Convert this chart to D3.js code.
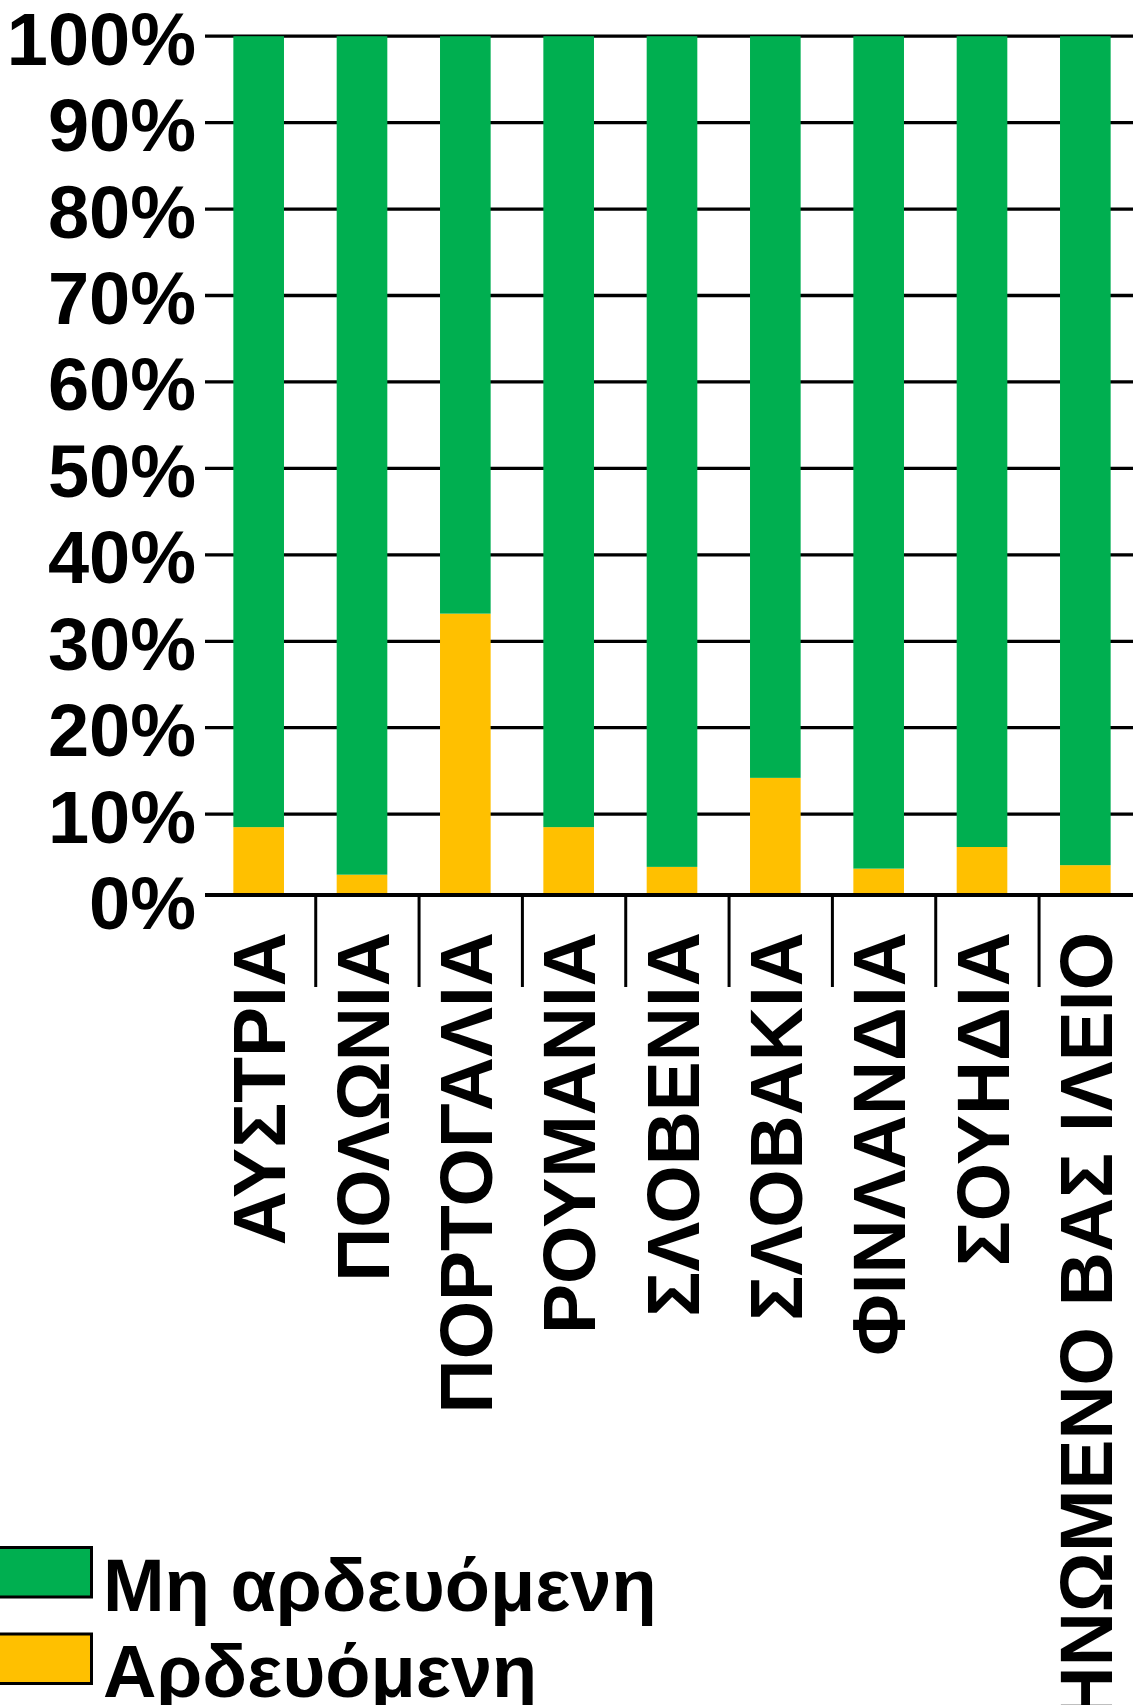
<!DOCTYPE html>
<html>
<head>
<meta charset="utf-8">
<script src="https://cdn.jsdelivr.net/npm/d3@7"></script>
<style>
  body { margin: 0; background: #fff; }
  svg { display: block; font-family: "Liberation Sans", Arial, sans-serif; font-weight: bold; }
</style>
</head>
<body>
<script>
// categories and values (% of area)
var countries = ['ΑΥΣΤΡΙΑ', 'ΠΟΛΩΝΙΑ', 'ΠΟΡΤΟΓΑΛΙΑ', 'ΡΟΥΜΑΝΙΑ', 'ΣΛΟΒΕΝΙΑ',
  'ΣΛΟΒΑΚΙΑ', 'ΦΙΝΛΑΝΔΙΑ', 'ΣΟΥΗΔΙΑ', 'ΗΝΩΜΕΝΟ ΒΑΣ ΙΛΕΙΟ'];
var irrigated = [8.5, 3.0, 33.2, 8.5, 3.9, 14.2, 3.7, 6.2, 4.1];
var nonIrrigated = [91.5, 97.0, 66.8, 91.5, 96.1, 85.8, 96.3, 93.8, 95.9];
var yTicks = [0, 10, 20, 30, 40, 50, 60, 70, 80, 90, 100];
var seriesNames = ['Μη αρδευόμενη', 'Αρδευόμενη'];
var seriesColors = ['#00AF50', '#FFC000'];

var width = 1133, height = 1705;
var axisY = 894; // Excel clips the bars at the axis line

var svg = d3.select('body').append('svg')
  .attr('width', width)
  .attr('height', height);

var x = d3.scaleBand()
  .domain(countries)
  .range([207, 1137])
  .paddingInner(0.51)
  .paddingOuter(0.255);

var y = d3.scaleLinear()
  .domain([0, 100])
  .range([900.6, 36.2]);

// gridlines
svg.append('g').selectAll('line')
  .data(yTicks.filter(function(d) { return d > 0; }))
  .enter().append('line')
  .attr('x1', 205).attr('x2', width)
  .attr('y1', function(d) { return y(d); })
  .attr('y2', function(d) { return y(d); })
  .attr('stroke', '#000')
  .attr('stroke-width', 3.3);

// stacked bars
var rows = countries.map(function(c, i) {
  return { name: c, irr: irrigated[i], non: nonIrrigated[i] };
});
var stack = d3.stack().keys(['irr', 'non'])(rows);

svg.append('g').selectAll('g')
  .data(stack)
  .enter().append('g')
  .attr('fill', function(d, i) { return seriesColors[1 - i]; })
  .selectAll('rect')
  .data(function(d) { return d; })
  .enter().append('rect')
  .attr('x', function(d) { return x(d.data.name); })
  .attr('width', x.bandwidth())
  .attr('y', function(d) { return y(d[1]); })
  .attr('height', function(d) { return Math.min(y(d[0]), axisY) - y(d[1]); });

// category axis line + separators
svg.append('line')
  .attr('x1', 205).attr('x2', width)
  .attr('y1', axisY + 1).attr('y2', axisY + 1)
  .attr('stroke', '#000').attr('stroke-width', 4);

var gap = (x.step() - x.bandwidth()) / 2;
svg.append('g').selectAll('line')
  .data(countries.slice(1))
  .enter().append('line')
  .attr('x1', function(d) { return x(d) - gap + 5.4; })
  .attr('x2', function(d) { return x(d) - gap + 5.4; })
  .attr('y1', axisY).attr('y2', 987)
  .attr('stroke', '#000').attr('stroke-width', 3);

// y tick labels
svg.append('g').selectAll('text')
  .data(yTicks)
  .enter().append('text')
  .attr('x', 196)
  .attr('y', function(d) { return y(d) + 28.5; })
  .attr('text-anchor', 'end')
  .attr('font-size', 74)
  .text(function(d) { return d + '%'; });

// rotated category labels
svg.append('g').selectAll('text')
  .data(countries)
  .enter().append('text')
  .attr('transform', function(d) {
    return 'translate(' + (x(d) + x.bandwidth() / 2) + ',932) rotate(-90)';
  })
  .attr('dy', 26.8)
  .attr('text-anchor', 'end')
  .attr('font-size', 75)
  .text(function(d) { return d; });

// legend
var legend = svg.append('g').selectAll('g')
  .data(seriesNames)
  .enter().append('g')
  .attr('transform', function(d, i) { return 'translate(0,' + (i * 86.5) + ')'; });
legend.append('rect')
  .attr('x', -5).attr('y', 1547.5)
  .attr('width', 96.5).attr('height', 49.5)
  .attr('fill', function(d, i) { return seriesColors[i]; })
  .attr('stroke', '#000').attr('stroke-width', 3);
legend.append('text')
  .attr('x', 103).attr('y', 1610.5)
  .attr('font-size', 74)
  .text(function(d) { return d; });
</script>
</body>
</html>
